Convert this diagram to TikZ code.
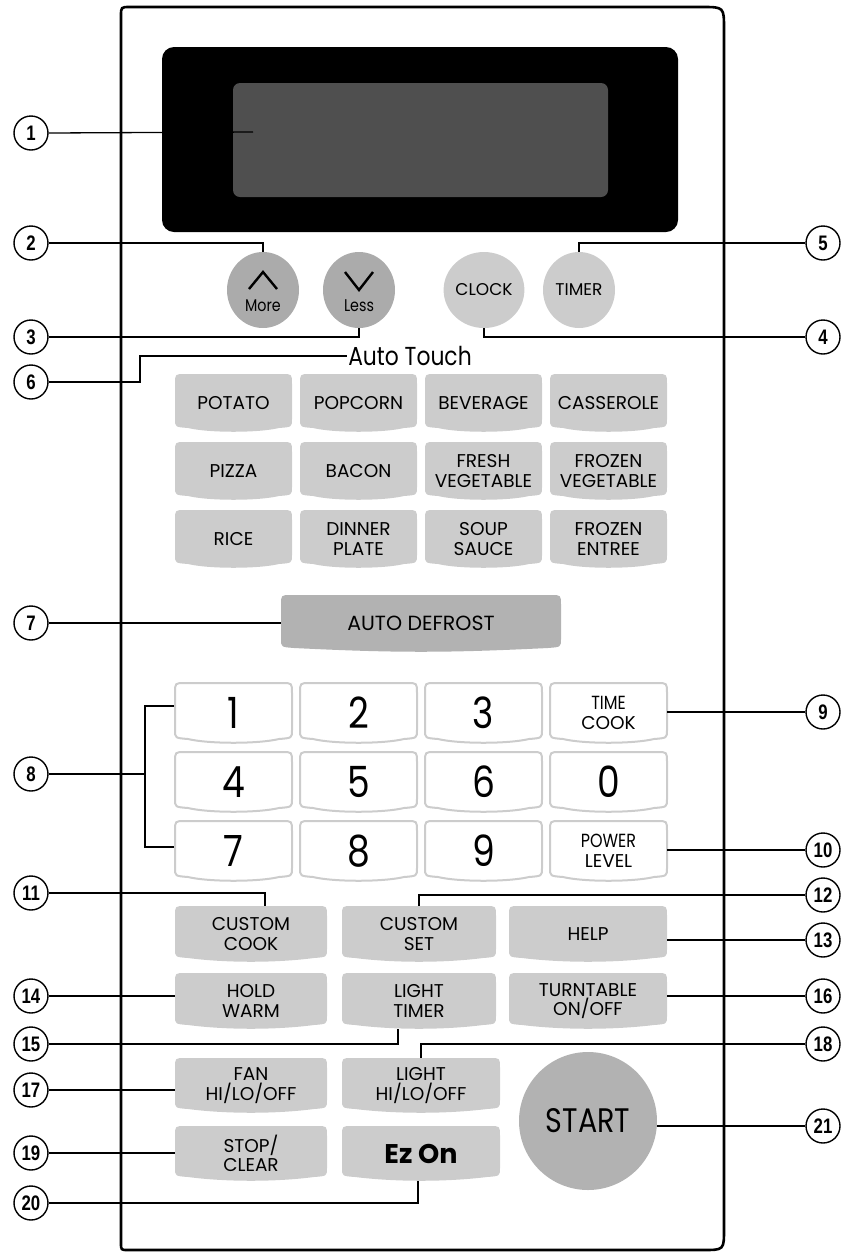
\documentclass[tikz,border=0pt]{standalone}
\usepackage{fontspec}
\setmainfont{Poppins}
\newfontfamily\narrowfont[FakeStretch=0.84]{Poppins}
\newfontfamily\calfont[FakeStretch=0.8]{Liberation Sans}
\usetikzlibrary{shapes.geometric}
\definecolor{dkbtn}{gray}{0.67}
\definecolor{ltbtn}{gray}{0.8}
\definecolor{mdbtn}{gray}{0.7}
\definecolor{scrn}{gray}{0.31}
\definecolor{keyedge}{gray}{0.8}
% #1 style, #2 name, #3 x1, #4 y1, #5 x2, #6 y2, #7 text
\newcommand\kbtn[7]{%
  \path[#1] ({#3+10},#4) -- ({#5-10},#4) .. controls (#5,#4) .. (#5,{#4+10})
    -- (#5,{#6-13}) .. controls (#5,{#6-5}) .. ({#5-13},{#6-4})
    .. controls ({(#3+#5)/2+25},{#6+1}) and ({(#3+#5)/2-25},{#6+1}) .. ({#3+13},{#6-4})
    .. controls (#3,{#6-5}) .. (#3,{#6-13}) -- (#3,{#4+10}) .. controls (#3,#4) .. ({#3+10},#4) -- cycle;
  \node[btntext,minimum width={#5-#3},minimum height={#6-#4}] (#2) at ({(#3+#5)/2},{(#4+#6)/2}) {#7};}
\newcommand\dg{\narrowfont\fontsize{43}{43}\selectfont}
\newcommand\sm{\narrowfont\fontsize{19}{19}\selectfont}
\newcommand\rb{\fontsize{17}{17}\selectfont}
\begin{document}
\begin{tikzpicture}[x=1pt,y=-1pt,
  callout/.style={circle,draw,line width=1.4pt,minimum size=34pt,inner sep=0pt,
    font=\calfont\bfseries\fontsize{21}{21}\selectfont},
  cline/.style={line width=1.3pt},
  btntext/.style={inner sep=0pt,align=center,font=\fontsize{18.5}{19.5}\selectfont},
  graybtn/.style={fill=ltbtn},
  defbtn/.style={fill=mdbtn},
  keybtn/.style={fill=white,draw=keyedge,line width=2pt},
  roundbtn/.style={ellipse,inner sep=0pt,minimum width=72pt,minimum height=76pt},
  chev/.style={line width=2.4pt,line join=miter}
]
\useasboundingbox (0,0) rectangle (845,1254);
% panel
\draw[line width=2.6pt] (121,16) .. controls (121,7) .. (130,7) -- (702,7)
  .. controls (724,7) .. (724,29) -- (724,1229) .. controls (724,1250) .. (703,1250)
  -- (128,1250) .. controls (121,1250) .. (121,1243) -- cycle;
% display
\node[fill=black,rounded corners=12pt,minimum width=516pt,minimum height=185pt,inner sep=0pt] (disp) at (420,139.5) {};
\node[fill=scrn,rounded corners=7pt,minimum width=375pt,minimum height=114pt,inner sep=0pt] (screen) at (420.5,140) {};
\coordinate (d1) at (253,132);
% round buttons
\node[roundbtn,fill=dkbtn] (more) at (263,290) {};
\node[roundbtn,fill=dkbtn] (less) at (359,290) {};
\node[roundbtn,fill=ltbtn,font=\rb] (clock) at (484,290) {CLOCK};
\node[roundbtn,fill=ltbtn,font=\rb] (timer) at (579,290) {TIMER};
\draw[chev] (249,289) -- (263,272) -- (277,289);
\draw[chev] (345,272) -- (359,290) -- (373,272);
\node[font=\narrowfont\fontsize{17}{17}\selectfont,inner sep=0pt] (moretxt) at (263,306) {More};
\node[font=\narrowfont\fontsize{17}{17}\selectfont,inner sep=0pt] (lesstxt) at (359,306) {Less};
\node[font=\narrowfont\fontsize{26}{26}\selectfont,inner xsep=1pt,inner ysep=0pt] (autotouch) at (410,356) {Auto Touch};
% auto touch buttons
\kbtn{graybtn}{potato}{175}{374}{292}{432}{POTATO}
\kbtn{graybtn}{popcorn}{300}{374}{417}{432}{POPCORN}
\kbtn{graybtn}{beverage}{425}{374}{542}{432}{BEVERAGE}
\kbtn{graybtn}{casserole}{550}{374}{667}{432}{CASSEROLE}
\kbtn{graybtn}{pizza}{175}{442}{292}{500}{PIZZA}
\kbtn{graybtn}{bacon}{300}{442}{417}{500}{BACON}
\kbtn{graybtn}{freshveg}{425}{442}{542}{500}{FRESH\\VEGETABLE}
\kbtn{graybtn}{frozveg}{550}{442}{667}{500}{FROZEN\\VEGETABLE}
\kbtn{graybtn}{rice}{175}{510}{292}{568}{RICE}
\kbtn{graybtn}{dinner}{300}{510}{417}{568}{DINNER\\PLATE}
\kbtn{graybtn}{soup}{425}{510}{542}{568}{SOUP\\SAUCE}
\kbtn{graybtn}{frozent}{550}{510}{667}{568}{FROZEN\\ENTREE}
\kbtn{defbtn}{defrost}{281}{595}{561}{652}{\fontsize{20.5}{20.5}\selectfont AUTO DEFROST}
% number keys
\kbtn{keybtn}{k1}{175}{683}{292}{743}{\dg 1}
\kbtn{keybtn}{k2}{300}{683}{417}{743}{\dg 2}
\kbtn{keybtn}{k3}{425}{683}{542}{743}{\dg 3}
\kbtn{keybtn}{tcook}{550}{683}{667}{743}{\sm TIME\\COOK}
\kbtn{keybtn}{k4}{175}{752}{292}{812}{\dg 4}
\kbtn{keybtn}{k5}{300}{752}{417}{812}{\dg 5}
\kbtn{keybtn}{k6}{425}{752}{542}{812}{\dg 6}
\kbtn{keybtn}{k0}{550}{752}{667}{812}{\dg 0}
\kbtn{keybtn}{k7}{175}{821}{292}{881}{\dg 7}
\kbtn{keybtn}{k8}{300}{821}{417}{881}{\dg 8}
\kbtn{keybtn}{k9}{425}{821}{542}{881}{\dg 9}
\kbtn{keybtn}{plevel}{550}{821}{667}{881}{\sm POWER\\LEVEL}
% lower buttons
\kbtn{graybtn}{ccook}{175}{906}{327}{962}{CUSTOM\\COOK}
\kbtn{graybtn}{cset}{342}{906}{496}{962}{CUSTOM\\SET}
\kbtn{graybtn}{help}{509}{906}{667}{962}{HELP}
\kbtn{graybtn}{hwarm}{175}{973}{327}{1029}{HOLD\\WARM}
\kbtn{graybtn}{ltimer}{342}{973}{496}{1029}{LIGHT\\TIMER}
\kbtn{graybtn}{turn}{509}{973}{667}{1029}{TURNTABLE\\ON/OFF}
\kbtn{graybtn}{fan}{175}{1058}{327}{1113}{FAN\\HI/LO/OFF}
\kbtn{graybtn}{lhi}{342}{1058}{500}{1113}{LIGHT\\HI/LO/OFF}
\kbtn{graybtn}{stop}{175}{1126}{327}{1181}{STOP/\\CLEAR}
\kbtn{graybtn}{ezon}{342}{1126}{500}{1181}{\fontsize{27}{27}\selectfont\bfseries Ez On}
\node[circle,fill=mdbtn,minimum size=138pt,inner sep=0pt,font=\narrowfont\fontsize{34}{34}\selectfont] (start) at (588,1121) {START};
% callout circles
\node[callout] (c1) at (31,133) {1};
\node[callout] (c2) at (31,243) {2};
\node[callout] (c3) at (31,337) {3};
\node[callout] (c6) at (31,382) {6};
\node[callout] (c7) at (31,623) {7};
\node[callout] (c8) at (31,774) {8};
\node[callout] (c11) at (31,893) {11};
\node[callout] (c14) at (31,996) {14};
\node[callout] (c15) at (31,1044) {15};
\node[callout] (c17) at (31,1090) {17};
\node[callout] (c19) at (31,1153) {19};
\node[callout] (c20) at (31,1203) {20};
\node[callout] (c5) at (823,243) {5};
\node[callout] (c4) at (823,337) {4};
\node[callout] (c9) at (823,712) {9};
\node[callout] (c10) at (823,850) {10};
\node[callout] (c12) at (823,895) {12};
\node[callout] (c13) at (823,940) {13};
\node[callout] (c16) at (823,996) {16};
\node[callout] (c18) at (823,1044) {18};
\node[callout] (c21) at (823,1126) {21};
% connectors
\draw[cline] (c1.east) -- (d1);
\draw[cline] (c2.east) -| (more.north);
\draw[cline] (c3.east) -| (less.south);
\draw[cline] (c4.west) -| (clock.south);
\draw[cline] (c5.west) -| (timer.north);
\coordinate (a6) at (140,382);
\draw[cline] (c6.east) -- (a6) |- (autotouch.west);
\draw[cline] (c7.east) -- (c7.east -| defrost.west);
\coordinate (b8) at (145,774);
\coordinate (b8t) at (174,706);
\coordinate (b8b) at (174,847);
\draw[cline] (c8.east) -- (b8);
\draw[cline] (b8t) -| (b8) |- (b8b);
\draw[cline] (c9.west) -- (c9.west -| tcook.east);
\draw[cline] (c10.west) -- (c10.west -| plevel.east);
\draw[cline] (c11.east) -| ([xshift=14pt]ccook.north);
\draw[cline] (c12.west) -| (cset.north);
\draw[cline] (c13.west) -- (c13.west -| help.east);
\draw[cline] (c14.east) -- (c14.east -| hwarm.west);
\draw[cline] (c15.east) -| ([xshift=-21pt]ltimer.south);
\draw[cline] (c16.west) -- (c16.west -| turn.east);
\draw[cline] (c17.east) -- (c17.east -| fan.west);
\draw[cline] (c18.west) -| (lhi.north);
\draw[cline] (c19.east) -- (c19.east -| stop.west);
\draw[cline] (c20.east) -| ([xshift=-3pt]ezon.south);
\draw[cline] (c21.west) -- (c21.west -| start.east);
\end{tikzpicture}
\end{document}
